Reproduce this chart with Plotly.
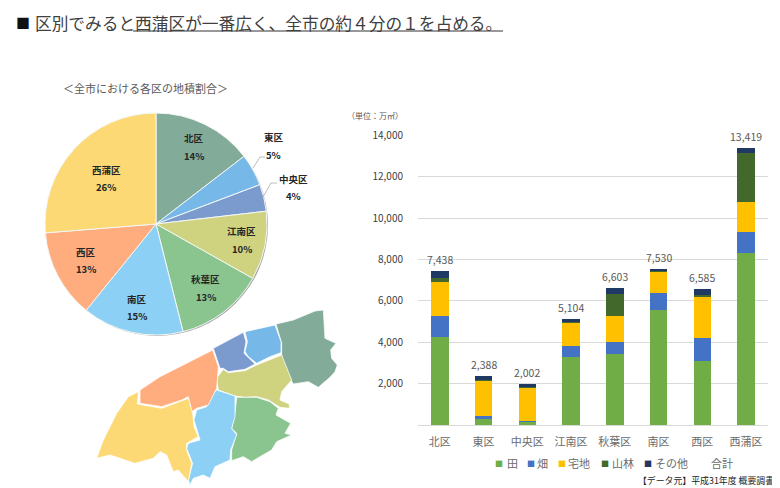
import plotly.graph_objects as go

FONT = "Noto Sans CJK JP"
districts = ["北区", "東区", "中央区", "江南区", "秋葉区", "南区", "西区", "西蒲区"]
totals = [7438, 2388, 2002, 5104, 6603, 7530, 6585, 13419]
total_labels = ["7,438", "2,388", "2,002", "5,104", "6,603", "7,530", "6,585", "13,419"]
pct_labels = ["14%", "5%", "4%", "10%", "13%", "15%", "13%", "26%"]
pie_colors = ["#82AC99", "#76B9E8", "#7B9BCE", "#CFD27F", "#8AC58F", "#8DD0F5", "#FFAC7E", "#FDD976"]

rice = [4270, 350, 190, 3270, 3435, 5548, 3097, 8340]
field = [1000, 85, 15, 570, 580, 822, 1093, 980]
residential = [1665, 1740, 1620, 1160, 1275, 1080, 1987, 1454]
forest = [190, 15, 5, 40, 1065, 30, 113, 2356]
other = [313, 198, 172, 64, 248, 50, 295, 289]
series_names = ["田", "畑", "宅地", "山林", "その他"]
series_colors = ["#70AD47", "#4472C4", "#FFC000", "#43682B", "#203864"]
y_ticks = [2000, 4000, 6000, 8000, 10000, 12000, 14000]
y_tick_labels = ["2,000", "4,000", "6,000", "8,000", "10,000", "12,000", "14,000"]

# Map outlines (crop units of the map inset)
map_north = [(648,72),(700,60),(765,33),(790,30),(795,115),(828,130),(812,150),(815,175),(832,195),(825,215),(810,232),(775,262),(745,245),(700,252),(690,235),(665,175),(665,130)]
map_east = [(555,95),(645,75),(663,125),(663,158),(630,170),(590,190),(565,170),(555,155),(562,125)]
map_chuo = [(460,145),(550,97),(558,125),(552,160),(585,192),(555,208),(505,215),(490,205),(480,205)]
map_konan = [(665,165),(695,240),(665,275),(660,300),(688,312),(688,325),(660,322),(625,300),(590,290),(555,292),(525,288),(475,270),(470,235),(490,208),(505,218),(555,212),(590,195)]
map_akiha = [(530,292),(590,292),(630,305),(655,325),(648,345),(692,370),(675,400),(695,405),(650,425),(635,450),(600,470),(575,485),(550,470),(515,482),(515,450),(530,400),(515,385),(525,340)]
map_minami = [(470,270),(525,288),(525,350),(515,385),(530,405),(512,450),(510,480),(465,500),(450,535),(430,525),(400,535),(390,555),(385,540),(398,490),(380,445),(385,430),(420,420),(402,360),(410,330),(440,320),(460,280)]
map_nishi = [(458,150),(475,200),(470,265),(445,315),(410,325),(395,335),(385,290),(365,300),(305,320),(240,310),(240,270),(300,230)]
map_nishikan = [(235,275),(232,312),(305,325),(385,295),(398,340),(402,380),(415,410),(380,430),(380,450),(395,490),(385,545),(355,510),(340,515),(320,465),(300,455),(280,475),(225,490),(150,465),(110,475),(130,420),(170,340),(205,290)]
map_shapes = [map_north, map_east, map_chuo, map_konan, map_akiha, map_minami, map_nishi, map_nishikan]

# The page adds an 8 px body margin, so the figure is 772x480 and the overlay axis is in page pixels
W, H, OFF = 772, 480, 8
def px(v):
    return (v - OFF) / W
def py(v):
    return 1 - (v - OFF) / H

fig = go.Figure()

for name, vals, col in zip(series_names, [rice, field, residential, forest, other], series_colors):
    fig.add_trace(go.Bar(x=districts, y=vals, name=name, marker=dict(color=col, line=dict(width=0)),
                         width=0.4, showlegend=False, hoverinfo="skip"))

for poly, col, name in zip(map_shapes, pie_colors, districts):
    xs = [60 + p[0] / 3 for p in poly] + [60 + poly[0][0] / 3]
    ys = [300 + p[1] / 3 for p in poly] + [300 + poly[0][1] / 3]
    fig.add_trace(go.Scatter(x=xs, y=ys, xaxis="x2", yaxis="y2", mode="lines", fill="toself",
                             fillcolor=col, line=dict(color="white", width=0.75), name=name,
                             showlegend=False, hoverinfo="skip"))

fig.add_trace(go.Pie(labels=districts, values=totals, sort=False, direction="clockwise", rotation=0,
                     marker=dict(colors=pie_colors, line=dict(color="#F4F7F4", width=1)),
                     textinfo="none", showlegend=False, hoverinfo="skip",
                     domain=dict(x=[px(45), px(267)], y=[py(335), py(113)])))

anns = []
def txt(x, y, s, size=10, color="#404040", anchor="center"):
    anns.append(dict(x=x, y=y, xref="x2", yref="y2", text=s, showarrow=False, xanchor=anchor, yanchor="middle",
                     font=dict(family=FONT, size=size, color=color)))

txt(14, 22, "■", 14, "#111111", "left")
txt(33, 23, "区別でみると西蒲区が一番広く、全市の約４分の１を占める。", 16.7, "#404040", "left")
txt(145, 88, "＜全市における各区の地積割合＞", 11, "#595959")
txt(375, 115, "（単位：万㎡）", 8, "#595959")
txt(706, 480, "【データ元】平成31年度 概要調書", 8.9, "#222222")

name_pos = [(193.5,138),(273.5,137),(293,179),(241.7,231),(205.7,279),(137,299),(86,252),(106,170)]
pct_pos = [(193.5,156),(273.5,155),(293,196),(241.7,249),(205.7,297),(137,316),(86,269),(106,187)]
for n, p, a, b in zip(districts, pct_labels, name_pos, pct_pos):
    txt(a[0], a[1], "<b>%s</b>" % n, 9.5, "#262626")
    txt(b[0], b[1], "<b>%s</b>" % p, 9.5, "#262626")

legend_swatches = [499, 530.5, 561.5, 605, 647.5]
legend_texts = [512, 542, 579, 623, 671]
for sx, tx, name, col in zip(legend_swatches, legend_texts, series_names, series_colors):
    txt(sx, 463, "■", 8, col)
    txt(tx, 463, name, 11, "#6B6B6B")
txt(721.5, 463, "合計", 11, "#6B6B6B")

for d, t, lab in zip(districts, totals, total_labels):
    anns.append(dict(x=d, y=t, xref="x", yref="y", text=lab, showarrow=False, yanchor="middle", yshift=11.5,
                     font=dict(family=FONT, size=10.5, color="#595959")))

fig.update_layout(
    width=W, height=H, margin=dict(l=0, r=0, t=0, b=0, pad=0, autoexpand=False),
    paper_bgcolor="white", plot_bgcolor="rgba(0,0,0,0)",
    barmode="stack", showlegend=False, annotations=anns,
    xaxis=dict(domain=[px(418), px(768)], categoryorder="array", categoryarray=districts,
               showline=True, linecolor="#D9D9D9", linewidth=1, ticks="outside", ticklen=7,
               tickcolor="rgba(0,0,0,0)", tickfont=dict(family=FONT, size=11, color="#6B6B6B"), fixedrange=True),
    yaxis=dict(domain=[py(425), py(135.5)], range=[0, 14000], tickvals=y_ticks, ticktext=y_tick_labels,
               showgrid=True, gridcolor="#D9D9D9", gridwidth=1, zeroline=False, ticks="outside", ticklen=12,
               tickcolor="rgba(0,0,0,0)", tickfont=dict(family=FONT, size=10, color="#404040"), fixedrange=True),
    xaxis2=dict(domain=[0, 1], range=[OFF, OFF + W], visible=False, anchor="y2", fixedrange=True),
    yaxis2=dict(domain=[0, 1], range=[OFF + H, OFF], visible=False, anchor="x2", fixedrange=True),
    shapes=[
        dict(type="line", xref="x2", yref="y2", x0=133, x1=503, y0=31, y1=31, line=dict(color="#333333", width=1)),
        dict(type="circle", xref="x2", yref="y2", x0=46.5, x1=268, y0=114.5, y1=336, fillcolor="#A8A8A8",
             line=dict(width=0), layer="below"),
        dict(type="path", xref="x2", yref="y2", path="M253,168 L260,157 L265,157", line=dict(color="#A6A6A6", width=0.75)),
        dict(type="path", xref="x2", yref="y2", path="M263,197 L271,183 L277,183", line=dict(color="#A6A6A6", width=0.75)),
    ],
)
fig.write_html("out.html")
